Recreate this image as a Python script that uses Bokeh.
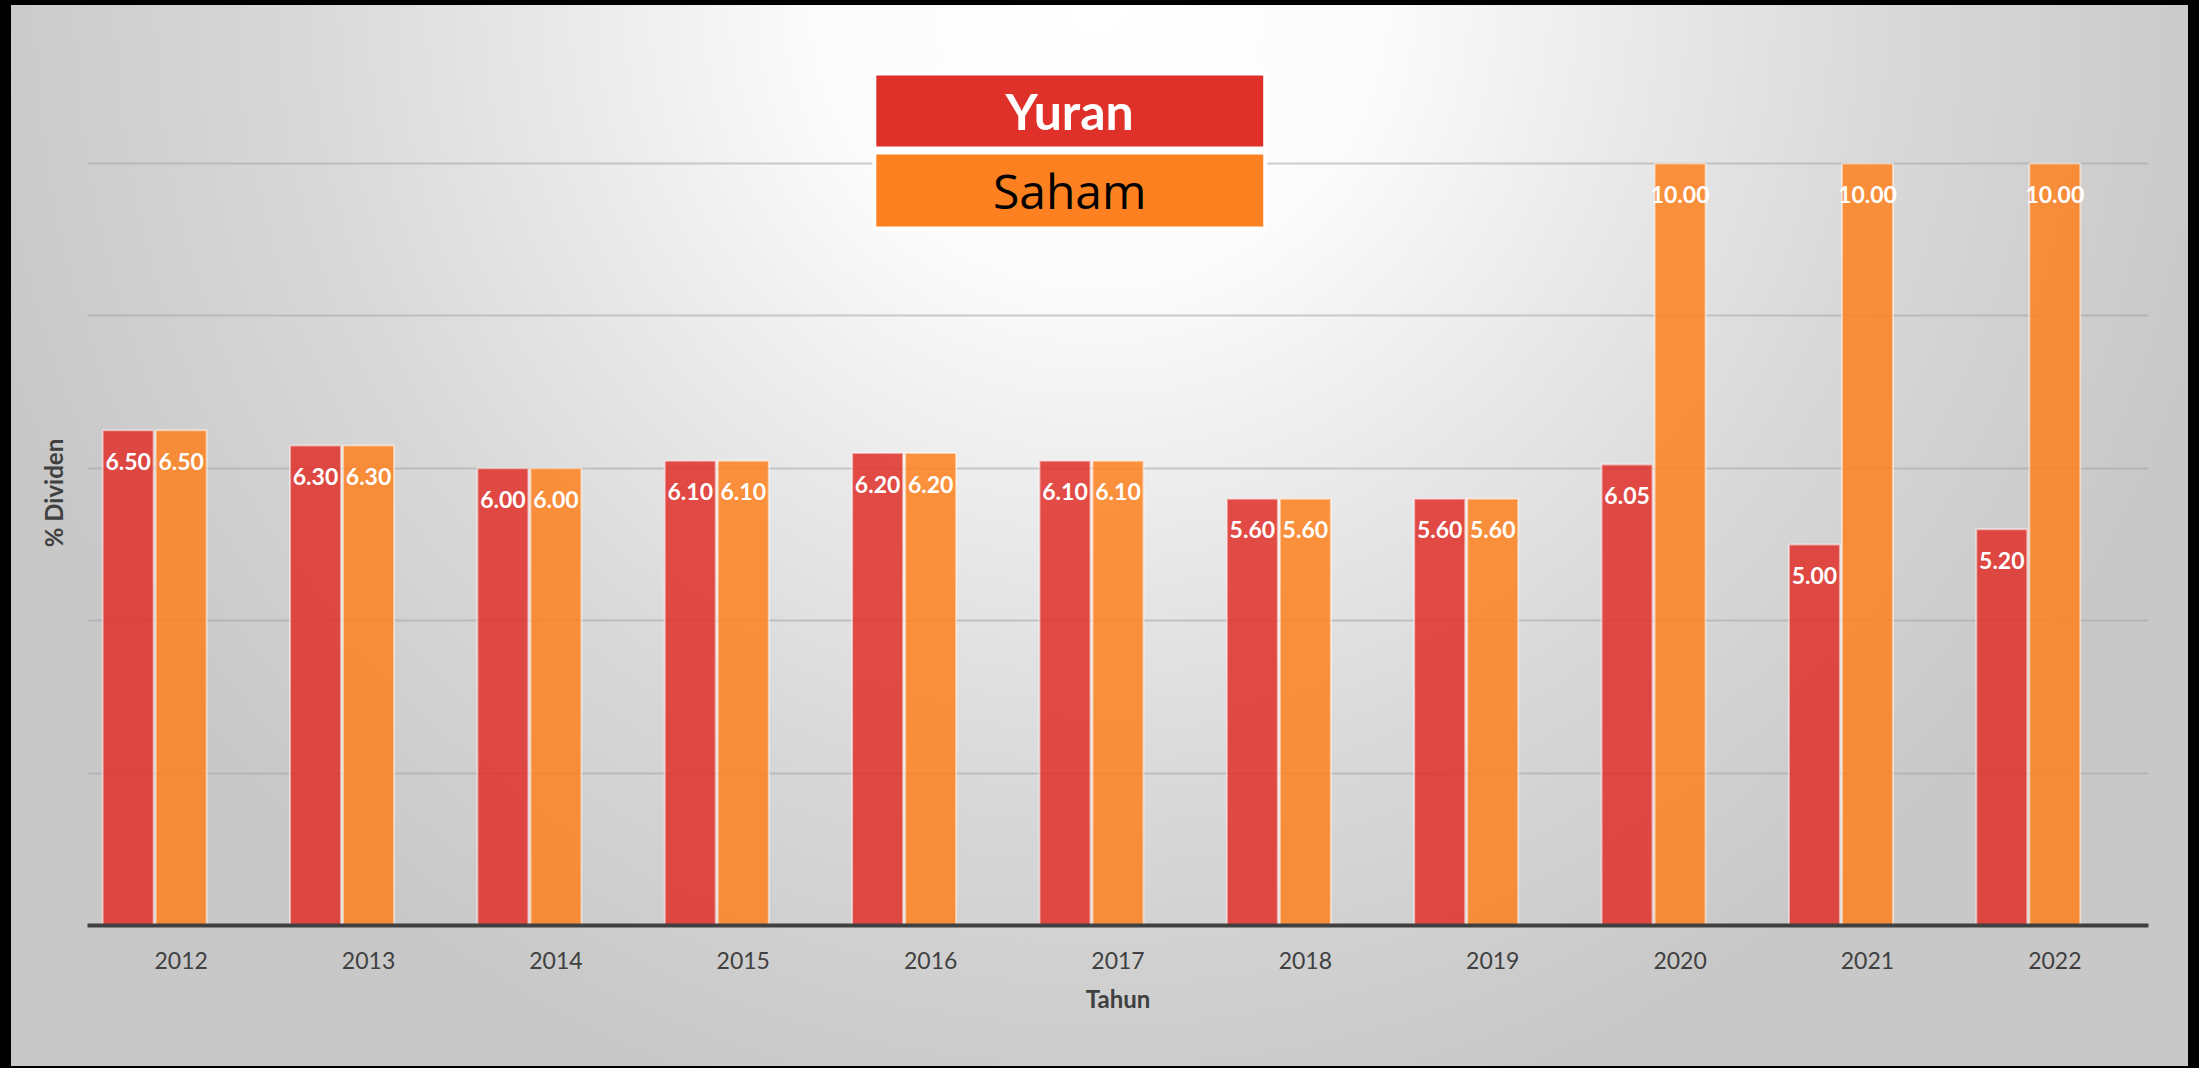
import numpy as np
from bokeh.plotting import figure
from bokeh.models import (ColumnDataSource, Range1d, FixedTicker, BoxAnnotation, Label)
from bokeh.transform import dodge
from bokeh.core.properties import value
from bokeh.embed import file_html
from bokeh.resources import INLINE

# ---- data ----
years = ["2012", "2013", "2014", "2015", "2016", "2017", "2018", "2019", "2020", "2021", "2022"]
yuran = [6.50, 6.30, 6.00, 6.10, 6.20, 6.10, 5.60, 5.60, 6.05, 5.00, 5.20]
saham = [6.50, 6.30, 6.00, 6.10, 6.20, 6.10, 5.60, 5.60, 10.00, 10.00, 10.00]
grid_values = [2, 4, 6, 8, 10]
series_names = ["Yuran", "Saham"]
x_title = "Tahun"
y_title = "% Dividen"

RED = "#E0302A"
ORANGE = "#FD8120"
TXT = "#404040"

xc = np.arange(len(years)) + 0.5
src = ColumnDataSource(dict(
    x=xc, yuran=yuran, saham=saham,
    yuran_lbl=[f"{v:.2f}" for v in yuran],
    saham_lbl=[f"{v:.2f}" for v in saham],
))

W, H = 2199, 1068
p = figure(width=W, height=H, output_backend="svg", toolbar_location=None,
           x_range=Range1d(0, len(years)), y_range=Range1d(0, 11.352),
           min_border_left=87, min_border_right=51, min_border_top=60, min_border_bottom=143)

p.background_fill_alpha = 0
p.border_fill_alpha = 0
p.outline_line_color = None
p.styles = {
    "background": "radial-gradient(circle 1150px at 50% 0%, #ffffff 0%, #fbfbfb 25%, #eaeaea 46%, #d8d8d8 70%, #c8c8c8 100%)",
    "box-shadow": "inset 11px 5px 0 0 #000000, inset -11px -2px 0 0 #000000",
}

bw = 0.272
p.vbar(x=dodge("x", -0.283, range=p.x_range), top="yuran", width=bw, source=src,
       fill_color=RED, fill_alpha=0.86, line_color="white", line_alpha=0.5, line_width=2)
p.vbar(x=dodge("x", 0.0, range=p.x_range), top="saham", width=bw, source=src,
       fill_color=ORANGE, fill_alpha=0.86, line_color="white", line_alpha=0.5, line_width=2)

for off, col in [(-0.283, "yuran"), (0.0, "saham")]:
    p.text(x=dodge("x", off, range=p.x_range), y=col, text=col + "_lbl", source=src,
           text_align="center", text_baseline="middle", y_offset=31,
           text_color="white", text_font=value("Lato"), text_font_style="bold",
           text_font_size="23px")

# x axis
p.xaxis.ticker = FixedTicker(ticks=list(xc))
p.xaxis.major_label_overrides = {float(x): y for x, y in zip(xc, years)}
p.xaxis.axis_line_color = TXT
p.xaxis.axis_line_width = 4
p.xaxis.major_tick_line_color = None
p.xaxis.minor_tick_line_color = None
p.xaxis.major_tick_out = 0
p.xaxis.major_tick_in = 0
p.xaxis.major_label_text_font = "Lato"
p.xaxis.major_label_text_font_size = "23px"
p.xaxis.major_label_text_color = TXT
p.xaxis.major_label_standoff = 26
p.xaxis.axis_label = x_title
p.xaxis.axis_label_text_font = "Lato"
p.xaxis.axis_label_text_font_style = "bold"
p.xaxis.axis_label_text_font_size = "24px"
p.xaxis.axis_label_text_color = TXT
p.xaxis.axis_label_standoff = 12

# y axis: title only, no tick labels
p.yaxis.ticker = FixedTicker(ticks=[])
p.yaxis.major_label_standoff = 0
p.yaxis.major_tick_line_color = None
p.yaxis.minor_tick_line_color = None
p.yaxis.major_tick_out = 0
p.yaxis.major_tick_in = 0
p.yaxis.axis_line_color = None
p.yaxis.axis_label = y_title
p.yaxis.axis_label_text_font = "Lato"
p.yaxis.axis_label_text_font_style = "bold"
p.yaxis.axis_label_text_font_size = "24px"
p.yaxis.axis_label_text_color = TXT
p.yaxis.axis_label_standoff = 20

p.xgrid.grid_line_color = None
p.ygrid.ticker = FixedTicker(ticks=grid_values)
p.ygrid.grid_line_color = "#a6a6a6"
p.ygrid.grid_line_alpha = 0.55
p.ygrid.grid_line_width = 2

# legend boxes
p.add_layout(BoxAnnotation(left=4.189, right=6.297, bottom=9.12, top=11.207,
                           fill_color="white", fill_alpha=1, line_color=None))
p.add_layout(BoxAnnotation(left=4.21, right=6.275, bottom=10.223, top=11.155,
                           fill_color=RED, fill_alpha=1, line_color=None))
p.add_layout(BoxAnnotation(left=4.21, right=6.275, bottom=9.173, top=10.118,
                           fill_color=ORANGE, fill_alpha=1, line_color=None))
p.add_layout(Label(x=5.242, y=10.689, text=series_names[0], text_align="center",
                   text_baseline="middle", text_color="white", text_font="Lato",
                   text_font_style="bold", text_font_size="50px"))
p.add_layout(Label(x=5.242, y=9.646, text=series_names[1], text_align="center",
                   text_baseline="middle", text_color="black", text_font="Open Sans",
                   text_font_size="48px"))

open("out.html", "w").write(file_html(p, INLINE))
